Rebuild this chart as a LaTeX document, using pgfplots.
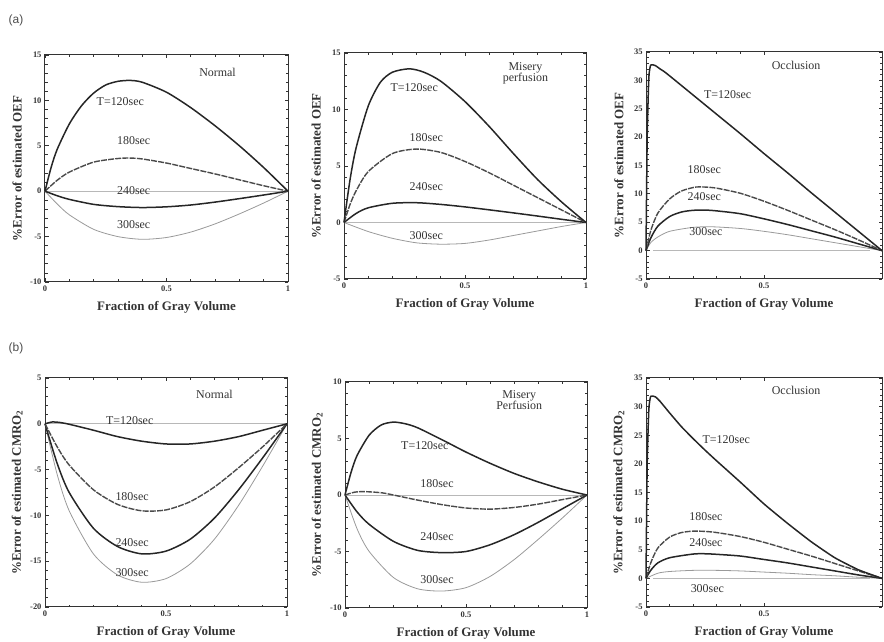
\documentclass[border=0pt]{standalone}
\usepackage{pgfplots}
\pgfplotsset{compat=1.18}
\usepackage{fontspec}
\setmainfont{Liberation Serif}
\newfontfamily\sansf{Liberation Sans}
\definecolor{axc}{HTML}{333333}
\definecolor{c120}{HTML}{262626}
\definecolor{c180}{HTML}{4a4a4a}
\definecolor{c240}{HTML}{262626}
\definecolor{c300}{HTML}{9a9a9a}
\definecolor{czero}{HTML}{b8b8b8}
\tikzset{ptxt/.style={font=\fontsize{12}{13}\selectfont, text=axc}}
\pgfplotsset{
  myax/.style={
    scale only axis, anchor=south west,
    xmin=0, xmax=1,
    axis line style={axc, line width=1.0bp},
    tick style={axc, line width=0.8bp},
    tick align=inside,
    major tick length=3.5bp, minor tick length=2.5bp,
    minor x tick num=4, minor y tick num=4,
    xtick={0,0.5,1}, xticklabels={0,0.5,1},
    ticklabel style={font=\fontsize{8.5}{9}\selectfont\bfseries, text=axc},
    /pgf/number format/assume math mode=true,
    xlabel={Fraction of Gray Volume},
    label style={font=\fontsize{13}{14}\selectfont\bfseries, text=axc},
    xlabel style={at={(axis description cs:0.5,-0.11)}, anchor=center},
    ylabel style={at={(axis description cs:-0.115,0.5)}, anchor=center},
    every axis plot/.append style={smooth, tension=0.45},
    clip=false,
  },
  l120/.style={c120, line width=1.5bp},
  l180/.style={c180, line width=1.4bp, dash pattern=on 6bp off 1.2bp},
  l240/.style={c240, line width=1.5bp},
  l300/.style={c300, line width=0.8bp},
  lzero/.style={czero, line width=0.7bp, sharp plot},
}
\begin{document}
\begin{tikzpicture}
\path[use as bounding box] (0,0) rectangle (884bp,642bp);
\node[font=\sansf\fontsize{12}{12}\selectfont, text=black!70] at (16bp,622bp) {(a)};
\node[font=\sansf\fontsize{12}{12}\selectfont, text=black!70] at (16bp,294bp) {(b)};

% (a) Normal
\begin{axis}[myax, at={(45bp,360bp)}, width=243bp, height=227bp,
  ymin=-10, ymax=15, ytick={-10,-5,0,5,10,15},
  ylabel={\%Error of estimated OEF}]
\addplot[lzero] coordinates {(0,0)(1,0)};
\addplot[l300] coordinates {(0,0)(0.05,-1.4)(0.1,-2.6)(0.2,-4.2)(0.3,-5.0)(0.4,-5.3)(0.5,-5.1)(0.6,-4.5)(0.7,-3.6)(0.8,-2.5)(0.9,-1.3)(1,0)};
\addplot[l240] coordinates {(0,0)(0.05,-0.5)(0.1,-0.9)(0.2,-1.45)(0.3,-1.7)(0.4,-1.8)(0.5,-1.72)(0.6,-1.52)(0.7,-1.2)(0.8,-0.82)(0.9,-0.42)(1,0)};
\addplot[l180] coordinates {(0,0)(0.05,1.2)(0.1,2.1)(0.2,3.2)(0.3,3.6)(0.35,3.65)(0.4,3.55)(0.5,3.1)(0.6,2.5)(0.7,1.9)(0.8,1.25)(0.9,0.6)(1,0)};
\addplot[l120] coordinates {(0,0)(0.025,2.6)(0.05,4.6)(0.1,7.4)(0.15,9.4)(0.2,10.8)(0.25,11.7)(0.3,12.1)(0.35,12.2)(0.4,12.0)(0.5,10.9)(0.6,9.2)(0.7,7.2)(0.8,5.0)(0.9,2.6)(1,0)};
\node[ptxt] at (axis cs:0.71,13.1) {Normal};
\node[ptxt] at (axis cs:0.31,9.9) {T=120sec};
\node[ptxt] at (axis cs:0.365,5.6) {180sec};
\node[ptxt] at (axis cs:0.365,0.1) {240sec};
\node[ptxt] at (axis cs:0.365,-3.7) {300sec};
\end{axis}

% (a) Misery perfusion
\begin{axis}[myax, at={(344bp,363bp)}, width=242bp, height=226bp,
  ymin=-5, ymax=15, ytick={-5,0,5,10,15},
  ylabel={\%Error of estimated OEF}]
\addplot[lzero] coordinates {(0,0)(1,0)};
\addplot[l300] coordinates {(0,0)(0.1,-0.8)(0.2,-1.4)(0.3,-1.8)(0.4,-1.92)(0.5,-1.85)(0.6,-1.55)(0.7,-1.15)(0.8,-0.75)(0.9,-0.35)(1,0)};
\addplot[l240] coordinates {(0,0)(0.05,0.8)(0.1,1.3)(0.2,1.7)(0.3,1.75)(0.4,1.6)(0.5,1.38)(0.6,1.12)(0.7,0.85)(0.8,0.57)(0.9,0.28)(1,0)};
\addplot[l180] coordinates {(0,0)(0.025,1.6)(0.05,2.8)(0.1,4.5)(0.2,6.1)(0.3,6.5)(0.4,6.2)(0.5,5.4)(0.6,4.4)(0.7,3.3)(0.8,2.2)(0.9,1.1)(1,0)};
\addplot[l120] coordinates {(0,0)(0.025,3.8)(0.05,6.6)(0.1,10.3)(0.15,12.4)(0.2,13.3)(0.27,13.6)(0.33,13.3)(0.4,12.5)(0.5,10.7)(0.6,8.5)(0.7,6.1)(0.8,3.8)(0.9,1.8)(1,0)};
\node[ptxt, align=center] at (axis cs:0.75,13.2) {Misery\\[-2pt]perfusion};
\node[ptxt] at (axis cs:0.29,11.9) {T=120sec};
\node[ptxt] at (axis cs:0.34,7.5) {180sec};
\node[ptxt] at (axis cs:0.34,3.2) {240sec};
\node[ptxt] at (axis cs:0.34,-1.2) {300sec};
\end{axis}

% (a) Occlusion
\begin{axis}[myax, at={(646bp,363bp)}, width=236bp, height=227bp,
  ymin=-5, ymax=35, ytick={-5,0,...,35}, xtick={0,0.5}, xticklabels={0,0.5},
  ylabel={\%Error of estimated OEF}]
\addplot[lzero] coordinates {(0.03,0)(0.95,0)};
\addplot[l300] coordinates {(0,0)(0.02,1.4)(0.05,2.4)(0.1,3.4)(0.2,4.1)(0.28,4.2)(0.4,3.9)(0.5,3.4)(0.6,2.8)(0.7,2.1)(0.8,1.4)(0.9,0.7)(1,0)};
\addplot[l240] coordinates {(0,0)(0.02,2.2)(0.05,4.3)(0.1,6.0)(0.15,6.8)(0.2,7.1)(0.25,7.15)(0.3,7.0)(0.4,6.5)(0.5,5.6)(0.6,4.6)(0.7,3.5)(0.8,2.4)(0.9,1.2)(1,0)};
\addplot[l180] coordinates {(0,0)(0.02,3.5)(0.05,6.6)(0.1,9.1)(0.15,10.5)(0.21,11.2)(0.25,11.2)(0.3,11.0)(0.4,10.1)(0.5,8.7)(0.6,7.1)(0.7,5.4)(0.8,3.7)(0.9,1.9)(1,0)};
\addplot[l120, tension=0.3] coordinates {(0,0)(0.005,20)(0.012,30.5)(0.02,32.7)(0.04,32.6)(0.06,32.0)(0.085,31.3)(0.2,27.4)(0.3,24.0)(0.4,20.6)(0.5,17.1)(0.6,13.7)(0.7,10.2)(0.8,6.8)(0.9,3.4)(1,0)};
\node[ptxt] at (axis cs:0.636,32.7) {Occlusion};
\node[ptxt] at (axis cs:0.346,27.5) {T=120sec};
\node[ptxt] at (axis cs:0.247,14.2) {180sec};
\node[ptxt] at (axis cs:0.247,9.5) {240sec};
\node[ptxt] at (axis cs:0.254,3.3) {300sec};
\end{axis}

% (b) Normal
\begin{axis}[myax, at={(45bp,35bp)}, width=242bp, height=229bp,
  ymin=-20, ymax=5, ytick={-20,-15,...,5},
  ylabel={\%Error of estimated CMRO\textsubscript{2}}]
\addplot[lzero] coordinates {(0,0)(1,0)};
\addplot[l300] coordinates {(0,0)(0.05,-5.5)(0.1,-9.5)(0.2,-14.2)(0.3,-16.5)(0.4,-17.3)(0.5,-16.9)(0.6,-15.3)(0.7,-12.6)(0.8,-8.9)(0.9,-4.6)(1,0)};
\addplot[l240] coordinates {(0,0)(0.05,-4.3)(0.1,-7.5)(0.2,-11.4)(0.3,-13.4)(0.4,-14.2)(0.5,-13.9)(0.6,-12.6)(0.7,-10.3)(0.8,-7.2)(0.9,-3.7)(1,0)};
\addplot[l180] coordinates {(0,0)(0.05,-2.5)(0.1,-4.5)(0.2,-7.2)(0.3,-8.8)(0.4,-9.5)(0.5,-9.4)(0.6,-8.5)(0.7,-6.9)(0.8,-4.8)(0.9,-2.5)(1,0)};
\addplot[l120] coordinates {(0,0)(0.03,0.2)(0.06,0.15)(0.1,-0.05)(0.2,-0.7)(0.3,-1.4)(0.4,-1.9)(0.5,-2.2)(0.6,-2.2)(0.7,-1.9)(0.8,-1.4)(0.9,-0.7)(1,0)};
\node[ptxt] at (axis cs:0.70,3.2) {Normal};
\node[ptxt] at (axis cs:0.35,0.4) {T=120sec};
\node[ptxt] at (axis cs:0.36,-7.9) {180sec};
\node[ptxt] at (axis cs:0.36,-13.0) {240sec};
\node[ptxt] at (axis cs:0.36,-16.2) {300sec};
\end{axis}

% (b) Misery Perfusion
\begin{axis}[myax, at={(345bp,34bp)}, width=242bp, height=226bp,
  ymin=-10, ymax=10, ytick={-10,-5,0,5,10},
  ylabel={\%Error of estimated CMRO\textsubscript{2}}]
\addplot[lzero] coordinates {(0,0)(1,0)};
\addplot[l300] coordinates {(0,0)(0.05,-3.0)(0.1,-5.0)(0.2,-7.3)(0.3,-8.3)(0.4,-8.5)(0.5,-8.2)(0.6,-7.2)(0.7,-5.7)(0.8,-3.9)(0.9,-2.0)(1,0)};
\addplot[l240] coordinates {(0,0)(0.05,-1.5)(0.1,-2.6)(0.2,-4.1)(0.3,-4.9)(0.4,-5.1)(0.5,-5.0)(0.6,-4.4)(0.7,-3.5)(0.8,-2.4)(0.9,-1.2)(1,0)};
\addplot[l180] coordinates {(0,0)(0.04,0.25)(0.08,0.3)(0.15,0.2)(0.2,0.0)(0.3,-0.45)(0.4,-0.85)(0.5,-1.15)(0.6,-1.25)(0.7,-1.1)(0.8,-0.8)(0.9,-0.4)(1,0)};
\addplot[l120] coordinates {(0,0)(0.025,2.0)(0.05,3.5)(0.1,5.3)(0.15,6.2)(0.2,6.45)(0.25,6.3)(0.3,5.95)(0.4,4.9)(0.5,3.8)(0.6,2.8)(0.7,1.9)(0.8,1.15)(0.9,0.5)(1,0)};
\node[ptxt, align=center] at (axis cs:0.72,8.4) {Misery\\[-2pt]Perfusion};
\node[ptxt] at (axis cs:0.33,4.4) {T=120sec};
\node[ptxt] at (axis cs:0.38,1.0) {180sec};
\node[ptxt] at (axis cs:0.38,-3.7) {240sec};
\node[ptxt] at (axis cs:0.38,-7.5) {300sec};
\end{axis}

% (b) Occlusion
\begin{axis}[myax, at={(646bp,35bp)}, width=236bp, height=229bp,
  ymin=-5, ymax=35, ytick={-5,0,...,35}, xtick={0,0.5}, xticklabels={0,0.5},
  ylabel={\%Error of estimated CMRO\textsubscript{2}}]
\addplot[lzero] coordinates {(0.03,0)(0.95,0)};
\addplot[l300] coordinates {(0,0)(0.05,0.9)(0.1,1.2)(0.2,1.4)(0.3,1.4)(0.4,1.3)(0.5,1.1)(0.6,0.9)(0.7,0.65)(0.8,0.45)(0.9,0.2)(1,0)};
\addplot[l240] coordinates {(0,0)(0.02,1.4)(0.05,2.7)(0.1,3.6)(0.2,4.25)(0.25,4.3)(0.3,4.2)(0.4,3.9)(0.5,3.3)(0.6,2.7)(0.7,2.0)(0.8,1.3)(0.9,0.6)(1,0)};
\addplot[l180] coordinates {(0,0)(0.02,2.7)(0.05,5.3)(0.1,7.2)(0.15,8.0)(0.2,8.25)(0.25,8.2)(0.3,8.0)(0.4,7.3)(0.5,6.3)(0.6,5.1)(0.7,3.9)(0.8,2.6)(0.9,1.3)(1,0)};
\addplot[l120, tension=0.3] coordinates {(0,0)(0.005,20)(0.012,29.5)(0.02,31.8)(0.04,31.7)(0.06,30.9)(0.1,28.9)(0.15,26.5)(0.2,24.4)(0.25,22.4)(0.3,20.5)(0.4,16.8)(0.5,13.0)(0.6,9.6)(0.7,6.4)(0.8,3.6)(0.9,1.5)(1,0)};
\node[ptxt] at (axis cs:0.636,32.9) {Occlusion};
\node[ptxt] at (axis cs:0.34,24.2) {T=120sec};
\node[ptxt] at (axis cs:0.254,10.8) {180sec};
\node[ptxt] at (axis cs:0.254,6.2) {240sec};
\node[ptxt] at (axis cs:0.26,-1.8) {300sec};
\end{axis}
\end{tikzpicture}
\end{document}
